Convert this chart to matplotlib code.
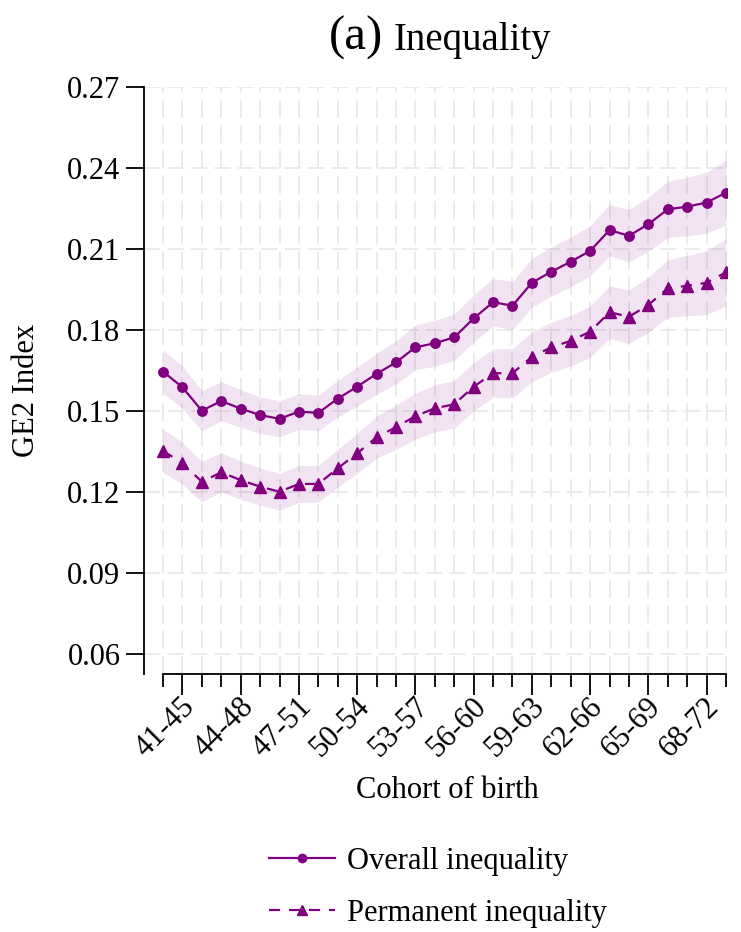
import matplotlib
matplotlib.use("Agg")
import matplotlib.pyplot as plt
import matplotlib.transforms as mtransforms
from matplotlib.lines import Line2D
import numpy as np

# ---------------- data ----------------
cohorts = [f"{a}-{a+4}" for a in range(40, 70)]  # 40-44 ... 69-73
overall = [0.1646, 0.1588, 0.1501, 0.1537, 0.1509, 0.1485, 0.1471, 0.1498, 0.1493, 0.1546,
           0.1590, 0.1638, 0.1680, 0.1736, 0.1751, 0.1773, 0.1843, 0.1903, 0.1890, 0.1975,
           0.2016, 0.2053, 0.2093, 0.2170, 0.2149, 0.2192, 0.2247, 0.2257, 0.2272, 0.2309]
permanent = [0.1353, 0.1306, 0.1238, 0.1273, 0.1244, 0.1220, 0.1201, 0.1230, 0.1230, 0.1288,
             0.1343, 0.1403, 0.1440, 0.1481, 0.1510, 0.1525, 0.1590, 0.1640, 0.1640, 0.1701,
             0.1736, 0.1760, 0.1794, 0.1866, 0.1849, 0.1893, 0.1954, 0.1964, 0.1975, 0.2014]
overall_ci = [0.0080, 0.0078, 0.0075, 0.0072, 0.0070, 0.0068, 0.0066, 0.0066, 0.0066, 0.0068,
              0.0072, 0.0076, 0.0080, 0.0083, 0.0085, 0.0086, 0.0087, 0.0088, 0.0089, 0.0090,
              0.0091, 0.0092, 0.0093, 0.0095, 0.0097, 0.0100, 0.0104, 0.0108, 0.0113, 0.0120]
permanent_ci = [0.0080, 0.0078, 0.0075, 0.0073, 0.0071, 0.0069, 0.0068, 0.0068, 0.0068, 0.0070,
                0.0074, 0.0078, 0.0082, 0.0085, 0.0087, 0.0088, 0.0089, 0.0090, 0.0091, 0.0092,
                0.0093, 0.0094, 0.0095, 0.0097, 0.0099, 0.0102, 0.0107, 0.0112, 0.0118, 0.0125]
yticks = [0.06, 0.09, 0.12, 0.15, 0.18, 0.21, 0.24, 0.27]
labeled_idx = list(range(1, 30, 3))

# ---------------- style ----------------
plt.rcParams['font.family'] = ['Liberation Serif', 'DejaVu Serif']
purple = '#800080'
band = '#800080'
gridc = '#e9e9e9'

W, H = 741, 932
fig = plt.figure(figsize=(W / 100, H / 100), dpi=100)
ax = fig.add_axes([144 / W, 1 - 674 / H, (727 - 144) / W, (674 - 87) / H])

x = np.arange(len(cohorts))
ov = np.array(overall); pm = np.array(permanent)
oc = np.array(overall_ci); pc = np.array(permanent_ci)

# grid
for xi in x:
    ax.axvline(xi, color=gridc, lw=1.3, ls=(0, (10, 4)), zorder=0)
for yt in yticks:
    ax.axhline(yt, color=gridc, lw=1.3, ls=(0, (9, 4)), zorder=0)

ax.fill_between(x, ov - oc, ov + oc, color=band, alpha=0.11, lw=0, zorder=1)
ax.fill_between(x, pm - pc, pm + pc, color=band, alpha=0.11, lw=0, zorder=1)

ax.plot(x, ov, color=purple, lw=1.6, marker='o', ms=6.8, zorder=3)
ax.plot(x, pm, color=purple, lw=1.6, ls=(0, (5, 4)), marker='^', ms=8.5, zorder=3)

ax.set_xlim(-0.98, 29.05)
ax.set_ylim(0.0526, 0.27)

for s in ['top', 'right']:
    ax.spines[s].set_visible(False)
ax.spines['left'].set_linewidth(1.3)
ax.spines['bottom'].set_linewidth(1.3)
ax.spines['bottom'].set_bounds(0, 29)

ax.set_yticks(yticks)
ax.set_yticklabels([f"{v:.2f}" for v in yticks], fontsize=22)
ax.tick_params(axis='y', length=13, width=1.3, pad=4)

ax.set_xticks(labeled_idx)
ax.set_xticklabels([cohorts[i] for i in labeled_idx], fontsize=22, rotation=45,
                   ha='right', va='top', rotation_mode='anchor')
ax.set_xticks(x, minor=True)
ax.tick_params(axis='x', which='major', length=15, width=1.3, pad=2)
ax.tick_params(axis='x', which='minor', length=9, width=1.3)
off = mtransforms.ScaledTranslation(-2 / 100, 5 / 100, fig.dpi_scale_trans)
for lab in ax.get_xticklabels():
    lab.set_transform(lab.get_transform() + off)

ax.set_ylabel('GE2 Index', fontsize=22)
ax.yaxis.set_label_coords(-(144 - 26) / (727 - 144), 1 - (390 - 87) / (674 - 87))
ax.yaxis.label.set_va('center')
fig.text(447 / W, 1 - 790 / H, 'Cohort of birth', fontsize=22, ha='center', va='center')

# title
fig.text(383 / W, 1 - 50 / H, '(a)', fontsize=35, ha='right', va='baseline')
fig.text(394 / W, 1 - 50 / H, 'Inequality', fontsize=28, ha='left', va='baseline')

# legend
h1 = Line2D([], [], color=purple, lw=1.6, marker='o', ms=6)
h2 = Line2D([], [], color=purple, lw=1.6, ls=(0, (5, 4)), marker='^', ms=7)
fig.legend([h1, h2], ['Overall inequality', 'Permanent inequality'],
           loc='upper left', bbox_to_anchor=(269 / W, 1 - 847 / H), frameon=False,
           fontsize=22, handlelength=2.16, handletextpad=0.4, labelspacing=0.75,
           borderpad=0, borderaxespad=0)

fig.savefig('out.png', dpi=100, facecolor='white')
